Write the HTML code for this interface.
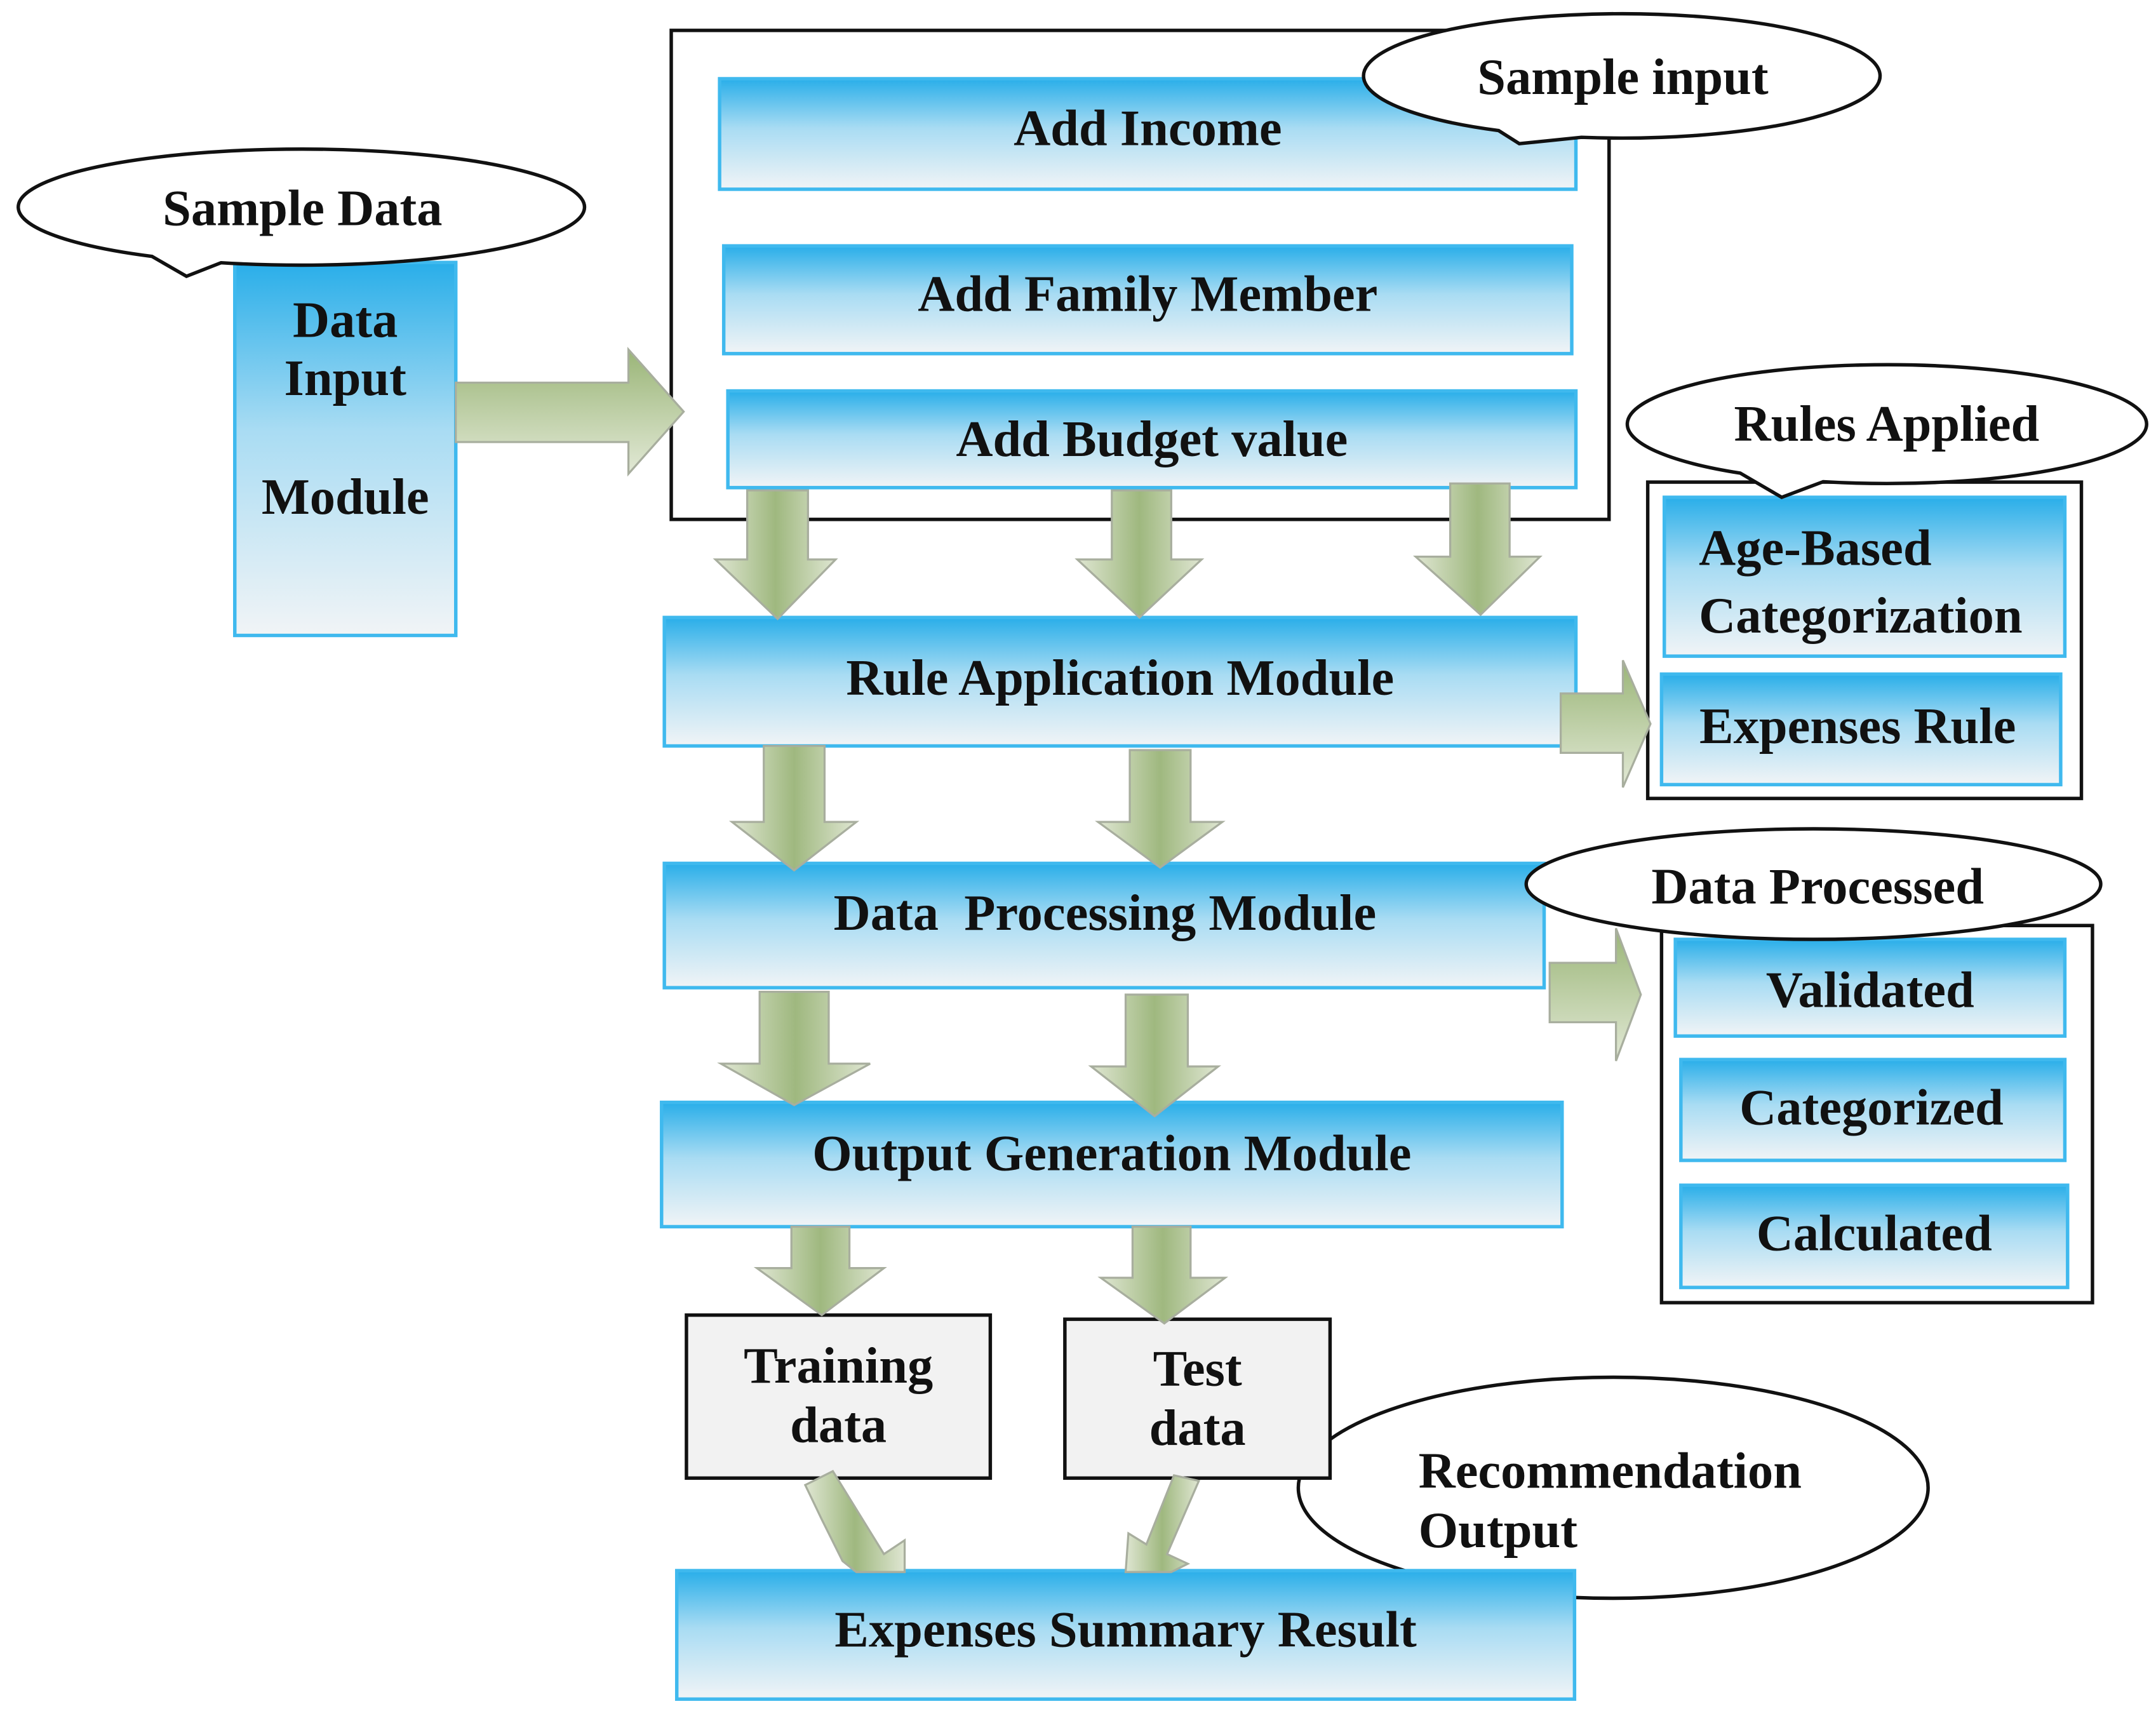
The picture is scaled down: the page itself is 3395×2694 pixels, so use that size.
<!DOCTYPE html>
<html><head><meta charset="utf-8"><style>
html,body{margin:0;padding:0;background:#fff;}
svg{display:block;}
text{font-family:"Liberation Serif",serif;font-weight:bold;fill:#111;}
</style></head><body>
<svg width="3395" height="2694" viewBox="0 0 1561 1238.6" preserveAspectRatio="none" xmlns="http://www.w3.org/2000/svg">
<defs>
<linearGradient id="bg" x1="0" y1="0" x2="0" y2="1">
<stop offset="0" stop-color="#29aee9"/><stop offset="0.45" stop-color="#a9dcf3"/><stop offset="1" stop-color="#f1f4f6"/>
</linearGradient>
<linearGradient id="gv" x1="0" y1="0" x2="1" y2="0">
<stop offset="0" stop-color="#dfe6d2"/><stop offset="0.5" stop-color="#9fb87f"/><stop offset="1" stop-color="#dfe6d2"/>
</linearGradient>
<linearGradient id="gh" x1="0" y1="0" x2="0" y2="1">
<stop offset="0" stop-color="#9ab577"/><stop offset="1" stop-color="#e2e9d6"/>
</linearGradient>
</defs>
<rect x="486" y="22" width="679" height="354" fill="#fff" stroke="#111" stroke-width="2.5"/>
<rect x="1193" y="349" width="314" height="229" fill="#fff" stroke="#111" stroke-width="2.5"/>
<rect x="1203" y="670" width="312" height="273" fill="#fff" stroke="#111" stroke-width="2.5"/>
<g stroke="#3fb9ee" stroke-width="2.5" fill="url(#bg)">
<rect x="170" y="190" width="160" height="270"/>
<rect x="521" y="57" width="620" height="80"/>
<rect x="524" y="178" width="614" height="78"/>
<rect x="527" y="283" width="614" height="70"/>
<rect x="481" y="447" width="660" height="93"/>
<rect x="1205" y="360" width="290" height="115"/>
<rect x="1203" y="488" width="289" height="80"/>
<rect x="481" y="625" width="637" height="90"/>
<rect x="1213" y="680" width="282" height="70"/>
<rect x="1217" y="767" width="278" height="73"/>
<rect x="1217" y="858" width="280" height="74"/>
<rect x="479" y="798" width="652" height="90"/>
</g>
<ellipse cx="1168" cy="1077" rx="228" ry="80" fill="#fff" stroke="#111" stroke-width="2.5"/>
<rect x="490" y="1137" width="650" height="93" stroke="#3fb9ee" stroke-width="2.5" fill="url(#bg)"/>
<rect x="497" y="952" width="220" height="118" fill="#f2f2f2" stroke="#111" stroke-width="2.5"/>
<rect x="771" y="955" width="192" height="115" fill="#f2f2f2" stroke="#111" stroke-width="2.5"/>
<g stroke="#a8ae9e" stroke-width="1.5" fill="url(#gv)">
<polygon points="541,355 585,355 585,405 605,405 563,448 518,405 541,405"/>
<polygon points="805,355 848,355 848,405 870,405 825,447 780,405 805,405"/>
<polygon points="1050,350 1093,350 1093,403 1115,403 1072,445 1025,403 1050,403"/>
<polygon points="553,540 597,540 597,595 620,595 575,630 530,595 553,595"/>
<polygon points="818,543 862,543 862,595 885,595 840,628 795,595 818,595"/>
<polygon points="550,718 600,718 600,770 630,770 575,800 522,770 550,770"/>
<polygon points="815,720 860,720 860,772 882,772 836,808 790,772 815,772"/>
<polygon points="573,888 615,888 615,918 640,918 595,952 548,918 573,918"/>
<polygon points="820,888 862,888 862,925 887,925 843,958 797,925 820,925"/>
<polygon points="583,1075 603,1065 640,1125 655,1115 655,1138 620,1138 610,1130 595,1100"/>
<polygon points="850,1068 868,1072 845,1125 860,1132 848,1138 815,1138 817,1110 830,1118"/>
</g>
<g stroke="#a8ae9e" stroke-width="1.5" fill="url(#gh)">
<polygon points="330,277 455,277 455,253 495,298 455,343 455,320 330,320"/>
<polygon points="1130,502 1175,502 1175,478 1195,524 1175,570 1175,545 1130,545"/>
<polygon points="1122,697 1170,697 1170,672 1188,720 1170,768 1170,740 1122,740"/>
</g>
<g fill="#fff" stroke="#111" stroke-width="2.5">
<path d="M 1085,94.5 A 187,45 0 1 1 1145,99.4 L 1100,104 Z"/>
<path d="M 110,185.6 A 205,42 0 1 1 160,190.2 L 135,200 Z"/>
<path d="M 1260,342.5 A 188,43 0 1 1 1320,348.7 L 1290,360 Z"/>
<ellipse cx="1313" cy="640" rx="208" ry="40"/>
</g>
<g font-size="37" text-anchor="middle">
<text x="219" y="163">Sample Data</text>
<text x="1175" y="68">Sample input</text>
<text x="1366" y="319">Rules Applied</text>
<text x="1316" y="654">Data Processed</text>
<text x="250" y="244">Data</text>
<text x="250" y="286">Input</text>
<text x="250" y="372">Module</text>
<text x="831" y="105">Add Income</text>
<text x="831" y="225">Add Family Member</text>
<text x="834" y="330">Add Budget value</text>
<text x="811" y="503">Rule Application Module</text>
<text x="800" y="673">Data&#160; Processing Module</text>
<text x="805" y="847">Output Generation Module</text>
<text x="607" y="1001">Training</text>
<text x="607" y="1044">data</text>
<text x="867" y="1003">Test</text>
<text x="867" y="1046">data</text>
<text x="815" y="1192">Expenses Summary Result</text>
<text x="1354" y="729">Validated</text>
<text x="1355" y="814">Categorized</text>
<text x="1357" y="905">Calculated</text>
<text x="1345" y="538">Expenses Rule</text>
</g>
<g font-size="37" text-anchor="start">
<text x="1230" y="409">Age-Based</text>
<text x="1230" y="458">Categorization</text>
<text x="1027" y="1077">Recommendation</text>
<text x="1027" y="1120">Output</text>
</g>
</svg>
</body></html>
